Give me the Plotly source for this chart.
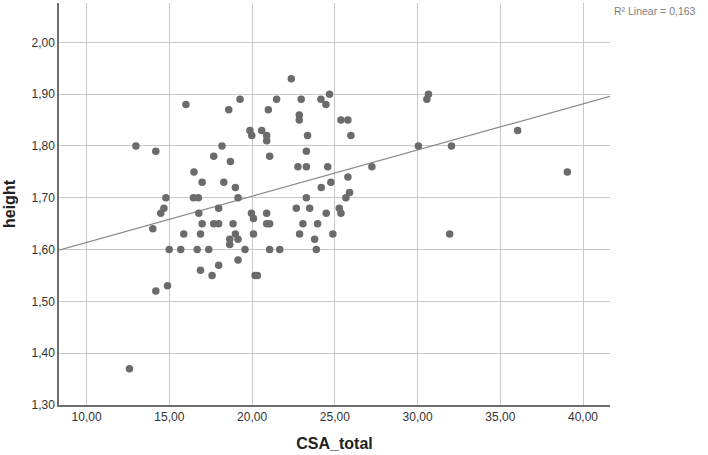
import numpy as np
import plotly.graph_objects as go

# CSA_total vs height
csa_total = [
    12.98, 14.18, 16.00, 18.59, 19.27, 18.18, 17.68, 18.69, 22.37, 21.48,
    20.98, 22.97, 24.16, 24.68, 24.46, 22.85, 22.85, 25.37, 25.79, 25.97,
    23.35, 19.87, 19.98, 20.58, 20.88, 20.88, 21.06, 23.28, 30.05, 30.66,
    30.56, 32.05, 36.05, 16.49, 16.98, 18.29, 18.99, 14.79, 16.45, 16.75,
    19.15, 14.67, 14.48, 17.98, 16.78, 14.00, 16.98, 17.68, 17.98, 18.85,
    15.87, 16.88, 18.99, 18.65, 18.65, 19.15, 14.99, 15.69, 16.68, 17.38,
    19.15, 16.88, 17.98, 17.58, 14.18, 14.89, 19.57, 19.96, 20.08, 20.88,
    20.88, 21.06, 20.08, 21.06, 21.67, 20.18, 20.32, 22.67, 23.28, 23.48,
    23.07, 22.87, 23.78, 23.88, 23.96, 24.48, 24.18, 24.76, 25.79, 25.89,
    25.67, 25.27, 25.37, 24.88, 39.05, 31.94, 12.59, 22.77, 23.28, 24.57,
    27.24,
]
height = [
    1.80, 1.79, 1.88, 1.87, 1.89, 1.80, 1.78, 1.77, 1.93, 1.89,
    1.87, 1.89, 1.89, 1.90, 1.88, 1.86, 1.85, 1.85, 1.85, 1.82,
    1.82, 1.83, 1.82, 1.83, 1.82, 1.81, 1.78, 1.79, 1.80, 1.90,
    1.89, 1.80, 1.83, 1.75, 1.73, 1.73, 1.72, 1.70, 1.70, 1.70,
    1.70, 1.68, 1.67, 1.68, 1.67, 1.64, 1.65, 1.65, 1.65, 1.65,
    1.63, 1.63, 1.63, 1.62, 1.61, 1.62, 1.60, 1.60, 1.60, 1.60,
    1.58, 1.56, 1.57, 1.55, 1.52, 1.53, 1.60, 1.67, 1.66, 1.67,
    1.65, 1.65, 1.63, 1.60, 1.60, 1.55, 1.55, 1.68, 1.70, 1.68,
    1.65, 1.63, 1.62, 1.60, 1.65, 1.67, 1.72, 1.73, 1.74, 1.71,
    1.70, 1.68, 1.67, 1.63, 1.75, 1.63, 1.37, 1.76, 1.76, 1.76,
    1.76,
]
r2_label = "R² Linear = 0,163"

x_range = [8.33, 41.63]
y_range = [1.30, 2.076]

x = np.array(csa_total)
y = np.array(height)
slope, intercept = np.polyfit(x, y, 1)
fit_x = np.array(x_range)
fit_y = intercept + slope * fit_x

fig = go.Figure()
fig.add_trace(go.Scatter(
    x=fit_x, y=fit_y, mode="lines",
    line=dict(color="#8a8a8a", width=1.2),
    hoverinfo="skip", showlegend=False,
))
fig.add_trace(go.Scatter(
    x=csa_total, y=height, mode="markers",
    marker=dict(color="#6b6b6b", size=7.5, line=dict(width=0)),
    showlegend=False,
))

font_family = "Liberation Sans, Arial, sans-serif"
axis_font = dict(family=font_family, size=12, color="#333333")
title_font = dict(family=font_family, size=16, color="#222222")
fig.update_xaxes(
    range=x_range, tickvals=[10, 15, 20, 25, 30, 35, 40], tickformat=".2f",
    showgrid=True, gridcolor="#c9c9c9", gridwidth=1,
    showline=True, linecolor="#6e6e6e", linewidth=1.5,
    ticks="", zeroline=False, tickfont=axis_font, automargin=False,
    title=dict(text="<b>CSA_total</b>", font=title_font, standoff=15),
)
fig.update_yaxes(
    range=y_range, tickvals=[1.3, 1.4, 1.5, 1.6, 1.7, 1.8, 1.9, 2.0], tickformat=".2f",
    showgrid=True, gridcolor="#c9c9c9", gridwidth=1,
    showline=True, linecolor="#6e6e6e", linewidth=1.5,
    ticks="", zeroline=False, tickfont=axis_font, automargin=False,
    title=dict(text="<b>height</b>", font=title_font, standoff=12),
)
fig.add_annotation(
    x=1.0, y=1.0, xref="paper", yref="paper", xanchor="left", yanchor="top",
    xshift=2, yshift=0, text=r2_label, showarrow=False,
    font=dict(family=font_family, size=10.5, color="#808080"),
)
fig.update_layout(
    width=708, height=455,
    margin=dict(l=59, r=98, t=3, b=50, autoexpand=False),
    paper_bgcolor="white", plot_bgcolor="white",
    separators=", ",
)
# the page's default body margin would push the figure 8px right and down
fig.write_html(
    "out.html",
    config={"displayModeBar": False},
    post_script="document.body.style.margin = '0px';",
)
